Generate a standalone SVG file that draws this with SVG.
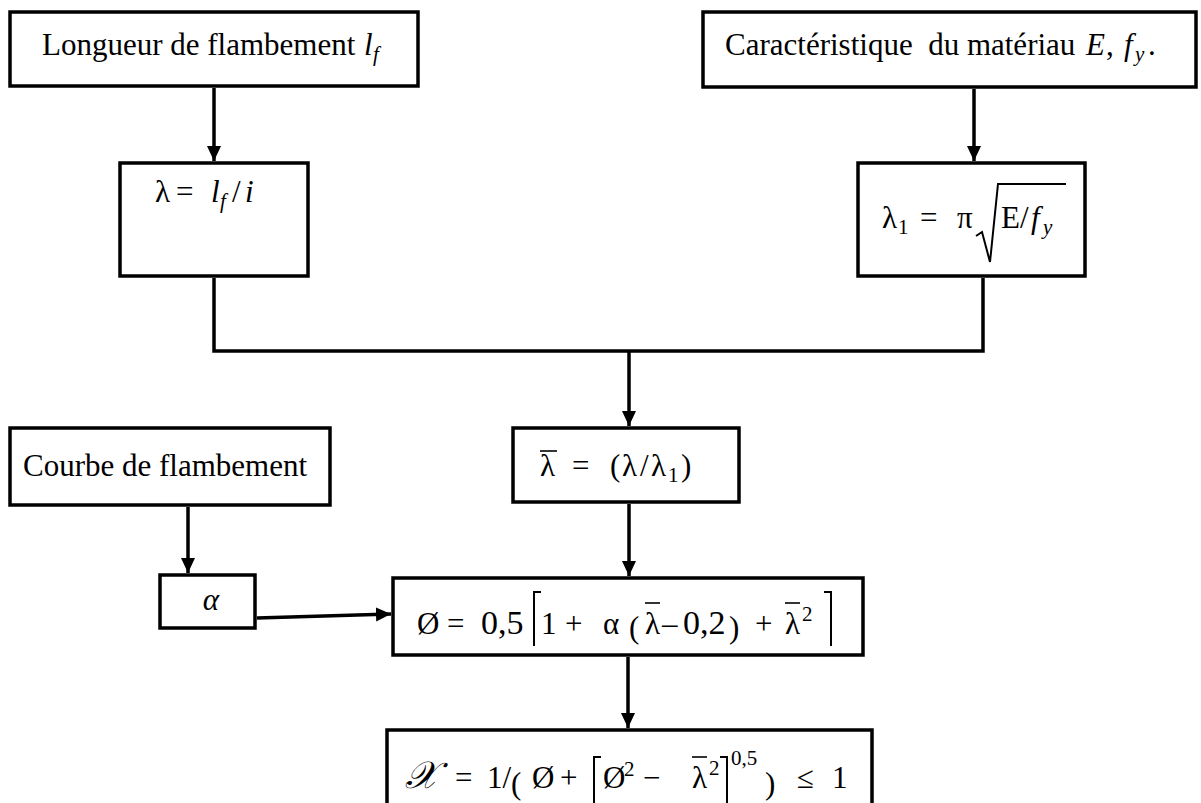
<svg xmlns="http://www.w3.org/2000/svg" width="1201" height="803" viewBox="0 0 1201 803">
  <defs>
    <marker id="arrow" markerUnits="userSpaceOnUse" markerWidth="16" markerHeight="16" refX="15" refY="8" orient="auto">
      <path d="M0,1 L15,8 L0,15 z" fill="#000"/>
    </marker>
    <style>
      .box { fill: #fff; stroke: #000; stroke-width: 3.5; }
      .wire { fill: none; stroke: #000; stroke-width: 3.5; }
      .arr { marker-end: url(#arrow); }
      text { font-family: "Liberation Serif", "Times New Roman", serif; fill: #000; }
      .t { font-size: 31px; }
      .m { font-size: 31px; }
      .sub { font-size: 21px; }
      .it { font-style: italic; }
      .num { font-size: 34px; }
      .bar { stroke: #000; stroke-width: 1.6; fill: none; }
      .delim { stroke: #000; stroke-width: 2; fill: none; }
    </style>
  </defs>
  <rect width="1201" height="803" fill="#fff"/>

  <!-- connectors -->
  <g id="connectors">
    <path class="wire arr" d="M214,88 V161"/>
    <path class="wire arr" d="M974,89 V161"/>
    <path class="wire" d="M214,278 V351 H983 V278"/>
    <path class="wire arr" d="M629,351 V426"/>
    <path class="wire arr" d="M188,507 V573"/>
    <path class="wire arr" d="M629,504 V576"/>
    <path class="wire arr" d="M257,618 L391,614"/>
    <path class="wire arr" d="M628,657 V728"/>
  </g>

  <!-- buckling length -->
  <g id="node-longueur">
    <rect class="box" x="10" y="12" width="408" height="74"/>
    <text class="t" y="55"><tspan x="42">Longueur de flambement</tspan><tspan x="364" class="it">l</tspan><tspan x="373" dy="6" class="it sub">f</tspan></text>
  </g>

  <!-- material properties -->
  <g id="node-materiau">
    <rect class="box" x="703" y="12" width="493" height="75"/>
    <text class="t" y="55"><tspan x="725">Caractéristique&#160; du matériau</tspan><tspan x="1086" class="it">E</tspan><tspan x="1106">,</tspan><tspan x="1124" class="it">f</tspan><tspan x="1135" dy="6" class="it sub">y</tspan><tspan x="1148" dy="-6">.</tspan></text>
  </g>

  <!-- slenderness -->
  <g id="node-lambda">
    <rect class="box" x="120" y="163" width="188" height="113"/>
    <text class="m" y="202"><tspan x="155">λ</tspan><tspan x="176">=</tspan><tspan x="211" class="it">l</tspan><tspan x="220" dy="6" class="it sub">f</tspan><tspan x="232" dy="-6">/</tspan><tspan x="245" class="it">i</tspan></text>
  </g>

  <!-- Euler slenderness -->
  <g id="node-lambda1">
    <rect class="box" x="858" y="163" width="227" height="113"/>
    <text class="m" y="228"><tspan x="882">λ</tspan><tspan x="898" dy="6" class="sub">1</tspan><tspan x="920" dy="-6">=</tspan><tspan x="957">π</tspan><tspan x="1001">E/</tspan><tspan x="1031" class="it">f</tspan><tspan x="1043" dy="6" class="it sub">y</tspan></text>
    <polyline class="delim" points="976,236 982,232 990,262 998,184 1066,184"/>
  </g>

  <!-- buckling curve -->
  <g id="node-courbe">
    <rect class="box" x="10" y="428" width="320" height="77"/>
    <text class="t" x="165" y="476" text-anchor="middle" font-size="29">Courbe de flambement</text>
  </g>

  <!-- reduced slenderness -->
  <g id="node-lambdabar">
    <rect class="box" x="513" y="428" width="226" height="74"/>
    <text class="m" y="476" font-size="33"><tspan x="540">λ</tspan><tspan x="572">=</tspan><tspan x="610">(</tspan><tspan x="622">λ</tspan><tspan x="640">/</tspan><tspan x="651">λ</tspan><tspan x="668" dy="6" class="sub">1</tspan><tspan x="681" dy="-6">)</tspan></text>
    <line class="bar" x1="540" y1="451" x2="557" y2="451"/>
  </g>

  <!-- imperfection factor -->
  <g id="node-alpha">
    <rect class="box" x="160" y="575" width="95" height="53"/>
    <text class="t it" x="211" y="610" text-anchor="middle">α</text>
  </g>

  <!-- phi -->
  <g id="node-phi">
    <rect class="box" x="393" y="578" width="470" height="77"/>
    <text class="m" y="634" font-size="32"><tspan x="417">Ø</tspan><tspan x="447">=</tspan><tspan x="481" class="num">0,5</tspan><tspan x="541">1</tspan><tspan x="565">+</tspan><tspan x="603">α</tspan><tspan x="645">λ</tspan><tspan x="662">–</tspan><tspan x="683" class="num">0,2</tspan><tspan x="755">+</tspan><tspan x="785">λ</tspan><tspan x="802" dy="-13" class="sub">2</tspan></text>
    <text class="m" y="638" font-size="42"><tspan x="629">(</tspan><tspan x="729">)</tspan></text>
    <polyline class="delim" points="541,592 534,592 534,646"/>
    <polyline class="delim" points="824,592 831,592 831,646"/>
    <line class="bar" x1="645" y1="603" x2="660" y2="603"/>
    <line class="bar" x1="785" y1="603" x2="800" y2="603"/>
  </g>

  <!-- reduction factor -->
  <g id="node-chi">
    <rect class="box" x="387" y="730" width="485" height="82"/>
    <text class="m" y="788" font-size="32"><tspan x="405" font-family="DejaVu Serif, serif" font-style="italic" font-size="38">𝒳</tspan><tspan x="455">=</tspan><tspan x="487">1/</tspan><tspan x="532">Ø</tspan><tspan x="560">+</tspan><tspan x="603">Ø</tspan><tspan x="624" dy="-12" class="sub">2</tspan><tspan x="643" dy="12">−</tspan><tspan x="692">λ</tspan><tspan x="709" dy="-13" class="sub">2</tspan><tspan x="731" dy="-10" class="sub">0,5</tspan><tspan x="797" dy="23">≤</tspan><tspan x="832">1</tspan></text>
    <text class="m" y="794" font-size="52"><tspan x="511">(</tspan><tspan x="765">)</tspan></text>
    <polyline class="delim" points="601,757 594,757 594,810"/>
    <polyline class="delim" points="720,757 727,757 727,810"/>
    <line class="bar" x1="692" y1="757" x2="707" y2="757"/>
  </g>
</svg>
